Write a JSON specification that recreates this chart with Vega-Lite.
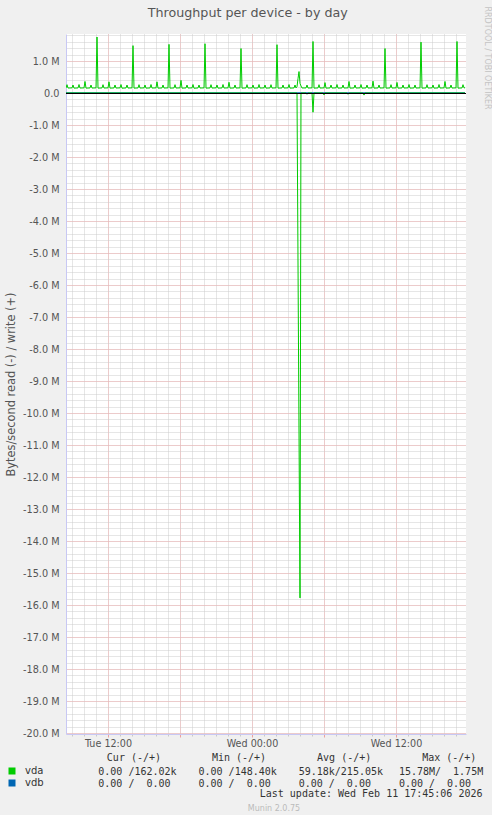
{
"$schema": "https://vega.github.io/schema/vega-lite/v6.json",
"background": "#f0f0f0",
"padding": {"left": 5, "top": 5, "right": 2, "bottom": 2},
"title": {"text": "Throughput per device - by day", "font": "DejaVu Sans", "fontSize": 12.7, "fontWeight": "normal", "color": "#555555", "anchor": "middle", "offset": -14},
"spacing": 3,
"config": {"view": {"stroke": null}, "axis": {"labelFont": "DejaVu Sans", "titleFont": "DejaVu Sans"}},
"resolve": {"scale": {"color": "independent"}, "legend": {"color": "independent"}},
"datasets": {
"io": [
{"dev":"vda","op":"write","hour":8.5,"bps":158000},
{"dev":"vda","op":"write","hour":8.5833,"bps":260000},
{"dev":"vda","op":"write","hour":8.6667,"bps":155000},
{"dev":"vda","op":"write","hour":9,"bps":160000},
{"dev":"vda","op":"write","hour":9.0833,"bps":250000},
{"dev":"vda","op":"write","hour":9.1667,"bps":152000},
{"dev":"vda","op":"write","hour":9.5,"bps":158000},
{"dev":"vda","op":"write","hour":9.5833,"bps":265000},
{"dev":"vda","op":"write","hour":9.6667,"bps":155000},
{"dev":"vda","op":"write","hour":10,"bps":160000},
{"dev":"vda","op":"write","hour":10.0833,"bps":360000},
{"dev":"vda","op":"write","hour":10.1667,"bps":152000},
{"dev":"vda","op":"write","hour":10.5,"bps":158000},
{"dev":"vda","op":"write","hour":10.5833,"bps":250000},
{"dev":"vda","op":"write","hour":10.6667,"bps":155000},
{"dev":"vda","op":"write","hour":11,"bps":160000},
{"dev":"vda","op":"write","hour":11.0833,"bps":1750000},
{"dev":"vda","op":"write","hour":11.1667,"bps":152000},
{"dev":"vda","op":"write","hour":11.5,"bps":158000},
{"dev":"vda","op":"write","hour":11.5833,"bps":260000},
{"dev":"vda","op":"write","hour":11.6667,"bps":155000},
{"dev":"vda","op":"write","hour":12,"bps":160000},
{"dev":"vda","op":"write","hour":12.0833,"bps":350000},
{"dev":"vda","op":"write","hour":12.1667,"bps":152000},
{"dev":"vda","op":"write","hour":12.5,"bps":158000},
{"dev":"vda","op":"write","hour":12.5833,"bps":250000},
{"dev":"vda","op":"write","hour":12.6667,"bps":155000},
{"dev":"vda","op":"write","hour":13,"bps":160000},
{"dev":"vda","op":"write","hour":13.0833,"bps":265000},
{"dev":"vda","op":"write","hour":13.1667,"bps":150000},
{"dev":"vda","op":"write","hour":13.5,"bps":158000},
{"dev":"vda","op":"write","hour":13.5833,"bps":250000},
{"dev":"vda","op":"write","hour":13.6667,"bps":155000},
{"dev":"vda","op":"write","hour":14,"bps":160000},
{"dev":"vda","op":"write","hour":14.0833,"bps":1480000},
{"dev":"vda","op":"write","hour":14.1667,"bps":152000},
{"dev":"vda","op":"write","hour":14.5,"bps":158000},
{"dev":"vda","op":"write","hour":14.5833,"bps":260000},
{"dev":"vda","op":"write","hour":14.6667,"bps":155000},
{"dev":"vda","op":"write","hour":15,"bps":160000},
{"dev":"vda","op":"write","hour":15.0833,"bps":250000},
{"dev":"vda","op":"write","hour":15.1667,"bps":152000},
{"dev":"vda","op":"write","hour":15.5,"bps":158000},
{"dev":"vda","op":"write","hour":15.5833,"bps":265000},
{"dev":"vda","op":"write","hour":15.6667,"bps":155000},
{"dev":"vda","op":"write","hour":16,"bps":160000},
{"dev":"vda","op":"write","hour":16.0833,"bps":350000},
{"dev":"vda","op":"write","hour":16.1667,"bps":152000},
{"dev":"vda","op":"write","hour":16.5,"bps":158000},
{"dev":"vda","op":"write","hour":16.5833,"bps":250000},
{"dev":"vda","op":"write","hour":16.6667,"bps":155000},
{"dev":"vda","op":"write","hour":17,"bps":160000},
{"dev":"vda","op":"write","hour":17.0833,"bps":1520000},
{"dev":"vda","op":"write","hour":17.1667,"bps":152000},
{"dev":"vda","op":"write","hour":17.5,"bps":158000},
{"dev":"vda","op":"write","hour":17.5833,"bps":260000},
{"dev":"vda","op":"write","hour":17.6667,"bps":155000},
{"dev":"vda","op":"write","hour":18,"bps":160000},
{"dev":"vda","op":"write","hour":18.0833,"bps":395000},
{"dev":"vda","op":"write","hour":18.1667,"bps":152000},
{"dev":"vda","op":"write","hour":18.5,"bps":158000},
{"dev":"vda","op":"write","hour":18.5833,"bps":250000},
{"dev":"vda","op":"write","hour":18.6667,"bps":155000},
{"dev":"vda","op":"write","hour":19,"bps":160000},
{"dev":"vda","op":"write","hour":19.0833,"bps":265000},
{"dev":"vda","op":"write","hour":19.1667,"bps":148400},
{"dev":"vda","op":"write","hour":19.5,"bps":158000},
{"dev":"vda","op":"write","hour":19.5833,"bps":250000},
{"dev":"vda","op":"write","hour":19.6667,"bps":155000},
{"dev":"vda","op":"write","hour":20,"bps":160000},
{"dev":"vda","op":"write","hour":20.0833,"bps":1540000},
{"dev":"vda","op":"write","hour":20.1667,"bps":152000},
{"dev":"vda","op":"write","hour":20.5,"bps":158000},
{"dev":"vda","op":"write","hour":20.5833,"bps":260000},
{"dev":"vda","op":"write","hour":20.6667,"bps":155000},
{"dev":"vda","op":"write","hour":21,"bps":160000},
{"dev":"vda","op":"write","hour":21.0833,"bps":250000},
{"dev":"vda","op":"write","hour":21.1667,"bps":152000},
{"dev":"vda","op":"write","hour":21.5,"bps":158000},
{"dev":"vda","op":"write","hour":21.5833,"bps":265000},
{"dev":"vda","op":"write","hour":21.6667,"bps":155000},
{"dev":"vda","op":"write","hour":22,"bps":160000},
{"dev":"vda","op":"write","hour":22.0833,"bps":335000},
{"dev":"vda","op":"write","hour":22.1667,"bps":152000},
{"dev":"vda","op":"write","hour":22.5,"bps":158000},
{"dev":"vda","op":"write","hour":22.5833,"bps":250000},
{"dev":"vda","op":"write","hour":22.6667,"bps":155000},
{"dev":"vda","op":"write","hour":23,"bps":160000},
{"dev":"vda","op":"write","hour":23.0833,"bps":1390000},
{"dev":"vda","op":"write","hour":23.1667,"bps":152000},
{"dev":"vda","op":"write","hour":23.5,"bps":158000},
{"dev":"vda","op":"write","hour":23.5833,"bps":260000},
{"dev":"vda","op":"write","hour":23.6667,"bps":155000},
{"dev":"vda","op":"write","hour":24,"bps":160000},
{"dev":"vda","op":"write","hour":24.0833,"bps":250000},
{"dev":"vda","op":"write","hour":24.1667,"bps":152000},
{"dev":"vda","op":"write","hour":24.5,"bps":158000},
{"dev":"vda","op":"write","hour":24.5833,"bps":265000},
{"dev":"vda","op":"write","hour":24.6667,"bps":155000},
{"dev":"vda","op":"write","hour":25,"bps":160000},
{"dev":"vda","op":"write","hour":25.0833,"bps":250000},
{"dev":"vda","op":"write","hour":25.1667,"bps":152000},
{"dev":"vda","op":"write","hour":25.5,"bps":158000},
{"dev":"vda","op":"write","hour":25.5833,"bps":260000},
{"dev":"vda","op":"write","hour":25.6667,"bps":155000},
{"dev":"vda","op":"write","hour":26,"bps":160000},
{"dev":"vda","op":"write","hour":26.0833,"bps":1510000},
{"dev":"vda","op":"write","hour":26.1667,"bps":152000},
{"dev":"vda","op":"write","hour":26.5,"bps":158000},
{"dev":"vda","op":"write","hour":26.5833,"bps":250000},
{"dev":"vda","op":"write","hour":26.6667,"bps":155000},
{"dev":"vda","op":"write","hour":27,"bps":160000},
{"dev":"vda","op":"write","hour":27.0833,"bps":265000},
{"dev":"vda","op":"write","hour":27.1667,"bps":152000},
{"dev":"vda","op":"write","hour":27.5,"bps":158000},
{"dev":"vda","op":"write","hour":27.5833,"bps":250000},
{"dev":"vda","op":"write","hour":27.6667,"bps":158000},
{"dev":"vda","op":"write","hour":27.75,"bps":200000},
{"dev":"vda","op":"write","hour":27.8333,"bps":450000},
{"dev":"vda","op":"write","hour":27.9167,"bps":670000},
{"dev":"vda","op":"write","hour":28,"bps":300000},
{"dev":"vda","op":"write","hour":28.0833,"bps":220000},
{"dev":"vda","op":"write","hour":28.1667,"bps":157000},
{"dev":"vda","op":"write","hour":28.5,"bps":158000},
{"dev":"vda","op":"write","hour":28.5833,"bps":250000},
{"dev":"vda","op":"write","hour":28.6667,"bps":155000},
{"dev":"vda","op":"write","hour":29,"bps":160000},
{"dev":"vda","op":"write","hour":29.0833,"bps":1610000},
{"dev":"vda","op":"write","hour":29.1667,"bps":152000},
{"dev":"vda","op":"write","hour":29.5,"bps":158000},
{"dev":"vda","op":"write","hour":29.5833,"bps":260000},
{"dev":"vda","op":"write","hour":29.6667,"bps":155000},
{"dev":"vda","op":"write","hour":30,"bps":160000},
{"dev":"vda","op":"write","hour":30.0833,"bps":325000},
{"dev":"vda","op":"write","hour":30.1667,"bps":152000},
{"dev":"vda","op":"write","hour":30.5,"bps":158000},
{"dev":"vda","op":"write","hour":30.5833,"bps":250000},
{"dev":"vda","op":"write","hour":30.6667,"bps":155000},
{"dev":"vda","op":"write","hour":31,"bps":160000},
{"dev":"vda","op":"write","hour":31.0833,"bps":265000},
{"dev":"vda","op":"write","hour":31.1667,"bps":152000},
{"dev":"vda","op":"write","hour":31.5,"bps":158000},
{"dev":"vda","op":"write","hour":31.5833,"bps":250000},
{"dev":"vda","op":"write","hour":31.6667,"bps":155000},
{"dev":"vda","op":"write","hour":32,"bps":160000},
{"dev":"vda","op":"write","hour":32.0833,"bps":360000},
{"dev":"vda","op":"write","hour":32.1667,"bps":152000},
{"dev":"vda","op":"write","hour":32.5,"bps":158000},
{"dev":"vda","op":"write","hour":32.5833,"bps":250000},
{"dev":"vda","op":"write","hour":32.6667,"bps":155000},
{"dev":"vda","op":"write","hour":33,"bps":160000},
{"dev":"vda","op":"write","hour":33.0833,"bps":265000},
{"dev":"vda","op":"write","hour":33.1667,"bps":152000},
{"dev":"vda","op":"write","hour":33.5,"bps":158000},
{"dev":"vda","op":"write","hour":33.5833,"bps":250000},
{"dev":"vda","op":"write","hour":33.6667,"bps":155000},
{"dev":"vda","op":"write","hour":34,"bps":160000},
{"dev":"vda","op":"write","hour":34.0833,"bps":370000},
{"dev":"vda","op":"write","hour":34.1667,"bps":152000},
{"dev":"vda","op":"write","hour":34.5,"bps":158000},
{"dev":"vda","op":"write","hour":34.5833,"bps":250000},
{"dev":"vda","op":"write","hour":34.6667,"bps":155000},
{"dev":"vda","op":"write","hour":35,"bps":160000},
{"dev":"vda","op":"write","hour":35.0833,"bps":1390000},
{"dev":"vda","op":"write","hour":35.1667,"bps":152000},
{"dev":"vda","op":"write","hour":35.5,"bps":158000},
{"dev":"vda","op":"write","hour":35.5833,"bps":260000},
{"dev":"vda","op":"write","hour":35.6667,"bps":155000},
{"dev":"vda","op":"write","hour":36,"bps":160000},
{"dev":"vda","op":"write","hour":36.0833,"bps":330000},
{"dev":"vda","op":"write","hour":36.1667,"bps":152000},
{"dev":"vda","op":"write","hour":36.5,"bps":158000},
{"dev":"vda","op":"write","hour":36.5833,"bps":250000},
{"dev":"vda","op":"write","hour":36.6667,"bps":155000},
{"dev":"vda","op":"write","hour":37,"bps":160000},
{"dev":"vda","op":"write","hour":37.0833,"bps":265000},
{"dev":"vda","op":"write","hour":37.1667,"bps":152000},
{"dev":"vda","op":"write","hour":37.5,"bps":158000},
{"dev":"vda","op":"write","hour":37.5833,"bps":250000},
{"dev":"vda","op":"write","hour":37.6667,"bps":155000},
{"dev":"vda","op":"write","hour":38,"bps":160000},
{"dev":"vda","op":"write","hour":38.0833,"bps":1590000},
{"dev":"vda","op":"write","hour":38.1667,"bps":152000},
{"dev":"vda","op":"write","hour":38.5,"bps":158000},
{"dev":"vda","op":"write","hour":38.5833,"bps":260000},
{"dev":"vda","op":"write","hour":38.6667,"bps":155000},
{"dev":"vda","op":"write","hour":39,"bps":160000},
{"dev":"vda","op":"write","hour":39.0833,"bps":250000},
{"dev":"vda","op":"write","hour":39.1667,"bps":152000},
{"dev":"vda","op":"write","hour":39.5,"bps":158000},
{"dev":"vda","op":"write","hour":39.5833,"bps":265000},
{"dev":"vda","op":"write","hour":39.6667,"bps":155000},
{"dev":"vda","op":"write","hour":40,"bps":160000},
{"dev":"vda","op":"write","hour":40.0833,"bps":360000},
{"dev":"vda","op":"write","hour":40.1667,"bps":152000},
{"dev":"vda","op":"write","hour":40.5,"bps":158000},
{"dev":"vda","op":"write","hour":40.5833,"bps":250000},
{"dev":"vda","op":"write","hour":40.6667,"bps":155000},
{"dev":"vda","op":"write","hour":41,"bps":160000},
{"dev":"vda","op":"write","hour":41.0833,"bps":1610000},
{"dev":"vda","op":"write","hour":41.1667,"bps":152000},
{"dev":"vda","op":"write","hour":41.5,"bps":158000},
{"dev":"vda","op":"write","hour":41.5833,"bps":260000},
{"dev":"vda","op":"write","hour":41.6667,"bps":162020},
{"dev":"vda","op":"write","hour":41.75,"bps":162020},
{"dev":"vda","op":"read","hour":8.5,"bps":0},
{"dev":"vda","op":"read","hour":27.75,"bps":0},
{"dev":"vda","op":"read","hour":28,"bps":-15780000},
{"dev":"vda","op":"read","hour":28.0833,"bps":0},
{"dev":"vda","op":"read","hour":28.5,"bps":0},
{"dev":"vda","op":"read","hour":28.5833,"bps":-40000},
{"dev":"vda","op":"read","hour":28.6667,"bps":0},
{"dev":"vda","op":"read","hour":29,"bps":0},
{"dev":"vda","op":"read","hour":29.0833,"bps":-600000},
{"dev":"vda","op":"read","hour":29.1667,"bps":0},
{"dev":"vda","op":"read","hour":29.9167,"bps":0},
{"dev":"vda","op":"read","hour":30,"bps":-60000},
{"dev":"vda","op":"read","hour":30.0833,"bps":0},
{"dev":"vda","op":"read","hour":31.9167,"bps":0},
{"dev":"vda","op":"read","hour":32,"bps":-40000},
{"dev":"vda","op":"read","hour":32.0833,"bps":0},
{"dev":"vda","op":"read","hour":33.25,"bps":0},
{"dev":"vda","op":"read","hour":33.3333,"bps":-65000},
{"dev":"vda","op":"read","hour":33.4167,"bps":0},
{"dev":"vda","op":"read","hour":41.75,"bps":0},
{"dev":"vdb","op":"write","hour":8.5,"bps":0},
{"dev":"vdb","op":"write","hour":41.75,"bps":0},
{"dev":"vdb","op":"read","hour":8.5,"bps":0},
{"dev":"vdb","op":"read","hour":41.75,"bps":0}
],
"summary": [
{"dev":"vda","stat":"Cur","value":"0.00 /162.02k"},
{"dev":"vda","stat":"Min","value":"0.00 /148.40k"},
{"dev":"vda","stat":"Avg","value":"59.18k/215.05k"},
{"dev":"vda","stat":"Max","value":"15.78M/\u00a0\u00a01.75M"},
{"dev":"vdb","stat":"Cur","value":"0.00\u00a0/\u00a0\u00a00.00"},
{"dev":"vdb","stat":"Min","value":"0.00\u00a0/\u00a0\u00a00.00"},
{"dev":"vdb","stat":"Avg","value":"\u00a00.00\u00a0/\u00a0\u00a00.00"},
{"dev":"vdb","stat":"Max","value":"\u00a00.00\u00a0/\u00a0\u00a00.00"}
]
},
"vconcat": [
{
"width": 400,
"height": 700,
"view": {"fill": "#ffffff", "stroke": null},
"data": {"name": "io"},
"layer": [
{
"transform": [{"filter": "datum.dev == 'vdb'"}],
"mark": {"type": "line", "strokeWidth": 1, "clip": true},
"encoding": {
"x": {"field": "hour", "type": "quantitative",
"scale": {"domain": [8.5, 41.8333], "nice": false, "zero": false},
"axis": {"orient": "bottom", "values": [9, 10, 11, 12, 13, 14, 15, 16, 17, 18, 19, 20, 21, 22, 23, 24, 25, 26, 27, 28, 29, 30, 31, 32, 33, 34, 35, 36, 37, 38, 39, 40, 41], "grid": true, "gridColor": "#cccccc", "gridDash": [1, 1], "gridWidth": 1, "labels": false, "ticks": true, "tickSize": 2, "tickColor": "#c8c8c8", "domain": false, "title": null}},
"y": {"field": "bps", "type": "quantitative",
"scale": {"domain": [-20031250, 1843750], "nice": false, "zero": false},
"axis": {"orient": "left", "tickCount": 110, "grid": true, "gridColor": "#cccccc", "gridDash": [1, 1], "gridWidth": 1, "labels": false, "ticks": false, "domain": false, "title": null}},
"color": {"field": "dev", "type": "nominal", "scale": {"domain": ["vda", "vdb"], "range": ["#00cc00", "#0066b3"]}, "legend": null},
"detail": {"field": "op", "type": "nominal"}
}
},
{
"transform": [{"filter": "datum.dev == 'vda'"}],
"mark": {"type": "line", "strokeWidth": 1, "clip": true},
"encoding": {
"x": {"field": "hour", "type": "quantitative",
"axis": {"orient": "bottom", "values": [12, 18, 24, 30, 36], "grid": true, "gridColor": "#f2b0b0", "gridDash": [1, 1], "gridWidth": 1, "labelExpr": "datum.value == 12 ? 'Tue 12:00' : datum.value == 24 ? 'Wed 00:00' : datum.value == 36 ? 'Wed 12:00' : ''", "labelFlush": false, "labelOverlap": false, "labelFontSize": 9.6, "labelColor": "#555555", "labelPadding": 1.5, "ticks": true, "tickSize": 3, "tickColor": "#eba0a0", "domain": true, "domainColor": "#c8c8f4", "domainWidth": 1, "title": null}},
"y": {"field": "bps", "type": "quantitative",
"axis": {"orient": "left", "values": [-20000000, -19000000, -18000000, -17000000, -16000000, -15000000, -14000000, -13000000, -12000000, -11000000, -10000000, -9000000, -8000000, -7000000, -6000000, -5000000, -4000000, -3000000, -2000000, -1000000, 0, 1000000], "grid": true, "gridColor": "#f2b0b0", "gridDash": [1, 1], "gridWidth": 1, "labelExpr": "datum.value == 0 ? '0.0' : (datum.value < 0 ? '-' : '') + format(abs(datum.value) / 1000000, '.1f') + ' M'", "labelFlush": false, "labelOverlap": false, "labelFontSize": 9.7, "labelColor": "#555555", "labelPadding": 7, "ticks": false, "tickSize": 0, "domain": true, "domainColor": "#c8c8f4", "domainWidth": 1, "title": "Bytes/second read (-) / write (+)", "titleFontSize": 11.4, "titleFontWeight": "normal", "titleColor": "#555555", "titlePadding": 6}},
"color": {"field": "dev", "type": "nominal", "scale": {"domain": ["vda", "vdb"], "range": ["#00cc00", "#0066b3"]}, "legend": null},
"detail": {"field": "op", "type": "nominal"}
}
},
{
"data": {"values": [{}]},
"mark": {"type": "rule", "color": "#000000", "strokeWidth": 1, "yOffset": 0.5},
"encoding": {
"y": {"datum": 0, "type": "quantitative",
"axis": {"orient": "right", "labels": false, "ticks": false, "domain": false, "grid": false, "title": "RRDTOOL / TOBI OETIKER", "titleAngle": 90, "titleX": 20, "titleY": -28, "titleAlign": "left", "titleBaseline": "middle", "titleFontSize": 8, "titleFontWeight": "normal", "titleColor": "#c4c4c4"}}
}
}
],
"resolve": {"axis": {"x": "independent", "y": "independent"}}
},
{
"width": 416,
"height": 24,
"data": {"name": "summary"},
"title": {"text": "Munin 2.0.75", "orient": "bottom", "anchor": "middle", "font": "DejaVu Sans", "fontSize": 8, "fontWeight": "normal", "color": "#bbbbbb", "offset": 7},
"layer": [
{
"mark": {"type": "text", "align": "left", "baseline": "middle", "font": "DejaVu Sans Mono", "fontSize": 10, "color": "#333333", "dx": -25.4},
"encoding": {
"x": {"field": "stat", "type": "nominal", "sort": ["Cur", "Min", "Avg", "Max"], "scale": {"type": "point", "padding": 0.576},
"axis": {"orient": "bottom", "labels": false, "ticks": false, "domain": false, "grid": false, "title": "Last update: Wed Feb 11 17:45:06 2026", "titleAnchor": "end", "titleFont": "DejaVu Sans Mono", "titleFontSize": 10, "titleFontWeight": "normal", "titleColor": "#333333", "titlePadding": -2}},
"y": {"field": "dev", "type": "nominal", "sort": ["vda", "vdb"], "scale": {"type": "band", "paddingInner": 0, "paddingOuter": 0}, "axis": null},
"text": {"field": "value", "type": "nominal"}
}
},
{
"mark": {"type": "text", "text": ""},
"encoding": {
"x": {"field": "stat", "type": "nominal", "sort": ["Cur", "Min", "Avg", "Max"], "scale": {"type": "point", "padding": 0.479},
"axis": {"orient": "top", "labelExpr": "datum.value + ' (-/+)'", "labelAlign": "left", "labelOffset": -10, "labelAngle": 0, "labelFont": "DejaVu Sans Mono", "labelFontSize": 10, "labelColor": "#333333", "labelPadding": 3.2, "ticks": false, "domain": false, "grid": false, "title": null}},
"y": {"field": "dev", "type": "nominal", "sort": ["vda", "vdb"]},
"color": {"field": "dev", "type": "nominal", "scale": {"domain": ["vda", "vdb"], "range": ["#00cc00", "#0066b3"]},
"legend": {"orient": "left", "title": null, "offset": 22, "padding": 0, "symbolType": "square", "symbolSize": 49, "symbolStrokeWidth": 0, "labelFont": "DejaVu Sans", "labelFontSize": 10, "labelColor": "#333333", "labelOffset": 8, "rowPadding": 2}}
}
}
],
"resolve": {"scale": {"x": "independent"}, "axis": {"x": "independent"}}
}
]
}
